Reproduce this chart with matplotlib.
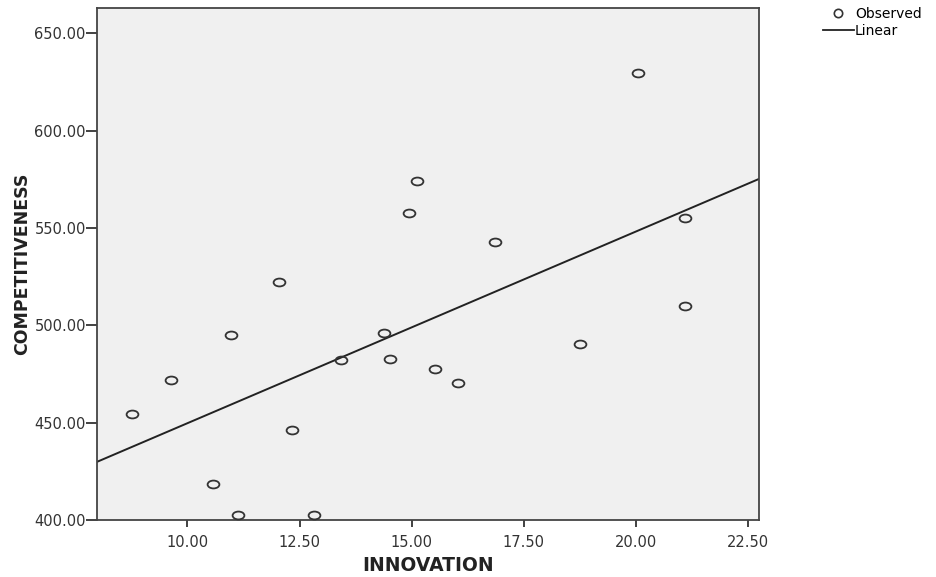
import numpy as np
import matplotlib
matplotlib.use("Agg")
import matplotlib.pyplot as plt
from matplotlib.path import Path
from matplotlib.lines import Line2D

innovation = [8.76, 9.63, 10.58, 10.98, 11.12, 12.03, 12.32, 12.81, 13.42, 14.39,
              14.52, 14.94, 15.11, 15.51, 16.04, 16.85, 18.76, 20.04, 21.08, 21.08]
competitiveness = [454.6, 472.0, 418.3, 495.1, 402.4, 522.2, 446.2, 402.4, 482.0, 496.0,
                   482.5, 557.6, 574.0, 477.4, 470.5, 542.7, 490.5, 629.6, 554.9, 510.0]

x_ticks = [10.0, 12.5, 15.0, 17.5, 20.0, 22.5]
y_ticks = [400.0, 450.0, 500.0, 550.0, 600.0, 650.0]
x_range = (7.983, 22.74)
y_range = (400.0, 663.0)

# SPSS output is stretched sideways, so the circles come out as flat ellipses
circ = Path.unit_circle()
ellipse = Path(circ.vertices * [1.5, 1.0], circ.codes)

fig = plt.figure(figsize=(9.36, 5.77), dpi=100)
ax = fig.add_axes([0.1036, 0.0988, 0.7073, 0.8872])
ax.set_facecolor("#f0f0f0")

ax.plot(innovation, competitiveness, linestyle="none", marker=ellipse, ms=8.5,
        mfc="none", mec="#333333", mew=1.3, zorder=3)

# least squares line over the whole x range
slope, intercept = np.polyfit(innovation, competitiveness, 1)
xs = np.array(x_range)
ax.plot(xs, intercept + slope * xs, color="#222222", lw=1.4, zorder=2)

ax.set_xlim(*x_range)
ax.set_ylim(*y_range)
ax.set_xticks(x_ticks)
ax.set_yticks(y_ticks)
ax.set_xticklabels(["%.2f" % v for v in x_ticks])
ax.set_yticklabels(["%.2f" % v for v in y_ticks])
ax.tick_params(axis="x", length=5, width=1.3, color="#333333", pad=6,
               labelsize=10.5, labelcolor="#333333")
ax.tick_params(axis="y", length=8, width=1.3, color="#333333", pad=0,
               labelsize=10.5, labelcolor="#333333")
for s in ax.spines.values():
    s.set_color("#444444")
    s.set_linewidth(1.3)

ax.set_xlabel("INNOVATION", fontsize=13.5, fontweight="bold", color="#222222",
              family="DejaVu Sans", labelpad=4)
ax.set_ylabel("COMPETITIVENESS", fontsize=12.5, fontweight="bold", color="#222222",
              family="Liberation Sans Narrow", labelpad=2)

handles = [
    Line2D([], [], linestyle="none", marker="o", ms=6, mfc="none", mec="#333333", mew=1.2),
    Line2D([], [], color="#222222", lw=1.3),
]
fig.legend(handles, ["Observed", "Linear"], loc="upper left",
           bbox_to_anchor=(0.869, 1.005), frameon=False, fontsize=10,
           handlelength=2.2, handletextpad=0.1, labelspacing=0.2,
           borderaxespad=0.3)

fig.savefig("out.png", dpi=100)
